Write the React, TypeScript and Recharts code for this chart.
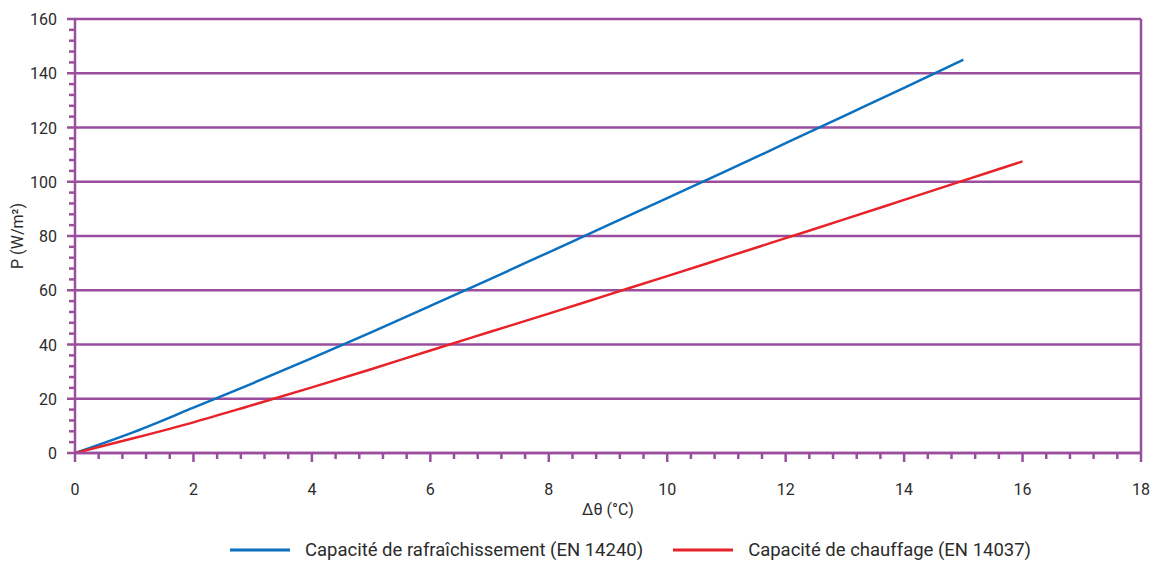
import React from "react";
import { LineChart, Line, XAxis, YAxis, CartesianGrid, ReferenceLine, Legend } from "recharts";

// Δθ en °C
const deltaT = [0, 1, 2, 3, 4, 5, 6, 7, 8, 9, 10, 11, 12, 13, 14, 15, 16];
// P en W/m²
const rafraichissement = [0, 7.8, 16.7, 25.7, 35, 44.5, 54.2, 64, 74, 84, 94, 104, 114.2, 124.4, 134.6, 145];
const chauffage = [0, 5.5, 11.3, 17.7, 24.2, 30.9, 37.8, 44.6, 51.4, 58.3, 65.2, 72.2, 79.2, 86.2, 93.3, 100.4, 107.5];

const seriesNames = ["Capacité de rafraîchissement (EN 14240)", "Capacité de chauffage (EN 14037)"];

const xMajor = [0, 2, 4, 6, 8, 10, 12, 14, 16, 18];
const yMajor = [0, 20, 40, 60, 80, 100, 120, 140, 160];

const coolingData = rafraichissement.map((p, i) => ({ dt: deltaT[i], p }));
const heatingData = chauffage.map((p, i) => ({ dt: deltaT[i], p }));

// 4 petites graduations entre deux grandes
const withMinor = (major: number[]) => {
  const out: number[] = [];
  for (let i = 0; i < major.length - 1; i++) {
    const step = (major[i + 1] - major[i]) / 5;
    for (let k = 0; k < 5; k++) out.push(+(major[i] + k * step).toFixed(4));
  }
  out.push(major[major.length - 1]);
  return out;
};
const xTicks = withMinor(xMajor);
const yTicks = withMinor(yMajor);

const PURPLE = "#9a4f9e";
const FONT = "Roboto, 'Open Sans', sans-serif";
const TEXT = "#2b2b2b";

const X_TICK_SIZE = 6;
const X_TICK_MARGIN = 2;
const Y_TICK_SIZE = 6;
const Y_TICK_MARGIN = 2;

const XTick = (props: any) => {
  const { x, y, payload } = props;
  const axisY = y - X_TICK_SIZE - X_TICK_MARGIN;
  const major = xMajor.includes(payload.value);
  return (
    <g>
      <line x1={x} y1={axisY} x2={x} y2={axisY + (major ? 9 : 6)} stroke={PURPLE} strokeWidth={2.5} />
      {major && (
        <text x={x} y={axisY + 42} textAnchor="middle" fontSize={16} fill={TEXT} fontFamily={FONT}>
          {payload.value}
        </text>
      )}
    </g>
  );
};

const YTick = (props: any) => {
  const { x, y, payload } = props;
  const axisX = x + Y_TICK_SIZE + Y_TICK_MARGIN;
  const major = yMajor.includes(payload.value);
  return (
    <g>
      <line x1={axisX - (major ? 8 : 6)} y1={y} x2={axisX} y2={y} stroke={PURPLE} strokeWidth={2.5} />
      {major && (
        <text x={axisX - 18} y={y + 6} textAnchor="end" fontSize={16} fill={TEXT} fontFamily={FONT}>
          {payload.value}
        </text>
      )}
    </g>
  );
};

const LegendContent = (props: any) => {
  const items = [...(props.payload || [])].sort(
    (a: any, b: any) => seriesNames.indexOf(a.value) - seriesNames.indexOf(b.value)
  );
  return (
    <div
      style={{
        display: "flex",
        justifyContent: "center",
        alignItems: "center",
        height: 24,
        paddingLeft: 120,
        fontFamily: FONT,
        fontSize: 18.5,
        color: TEXT,
      }}
    >
      {items.map((entry: any, i: number) => (
        <div key={i} style={{ display: "flex", alignItems: "center", marginRight: i === 0 ? 30 : 0 }}>
          <svg width={60} height={4} style={{ marginRight: 15 }}>
            <line x1={0} y1={2} x2={60} y2={2} stroke={entry.color} strokeWidth={3} />
          </svg>
          <span>{entry.value}</span>
        </div>
      ))}
    </div>
  );
};

export default function App() {
  return (
    <div style={{ position: "absolute", left: 0, top: 0, background: "#fff" }}>
      <LineChart width={1153} height={562} margin={{ top: 19, right: 12, left: 0, bottom: 0 }}>
        <CartesianGrid vertical={false} horizontalValues={yMajor} stroke={PURPLE} strokeWidth={2.5} />
        <XAxis
          dataKey="dt"
          type="number"
          domain={[0, 18]}
          ticks={xTicks}
          interval={0}
          tickLine={false}
          tickSize={X_TICK_SIZE}
          tickMargin={X_TICK_MARGIN}
          tick={<XTick />}
          axisLine={{ stroke: PURPLE, strokeWidth: 2.5 }}
          height={85}
          allowDataOverflow
          label={{
            value: "Δθ (°C)",
            position: "insideBottom",
            offset: 23,
            style: { fontFamily: FONT, fontSize: 16, fill: TEXT },
          }}
        />
        <YAxis
          type="number"
          domain={[0, 160]}
          ticks={yTicks}
          interval={0}
          tickLine={false}
          tickSize={Y_TICK_SIZE}
          tickMargin={Y_TICK_MARGIN}
          tick={<YTick />}
          axisLine={{ stroke: PURPLE, strokeWidth: 2.5 }}
          width={75}
          label={{
            value: "P (W/m²)",
            angle: -90,
            position: "insideLeft",
            offset: 17,
            style: { fontFamily: FONT, fontSize: 16, fill: TEXT, textAnchor: "middle" },
          }}
        />
        <ReferenceLine x={18} stroke={PURPLE} strokeWidth={2.5} />
        <Legend verticalAlign="bottom" content={<LegendContent />} />
        <Line
          data={coolingData}
          dataKey="p"
          name={seriesNames[0]}
          type="monotone"
          stroke="#0a70bf"
          strokeWidth={2.5}
          dot={false}
          isAnimationActive={false}
        />
        <Line
          data={heatingData}
          dataKey="p"
          name={seriesNames[1]}
          type="monotone"
          stroke="#e82229"
          strokeWidth={2.5}
          dot={false}
          isAnimationActive={false}
        />
      </LineChart>
    </div>
  );
}
